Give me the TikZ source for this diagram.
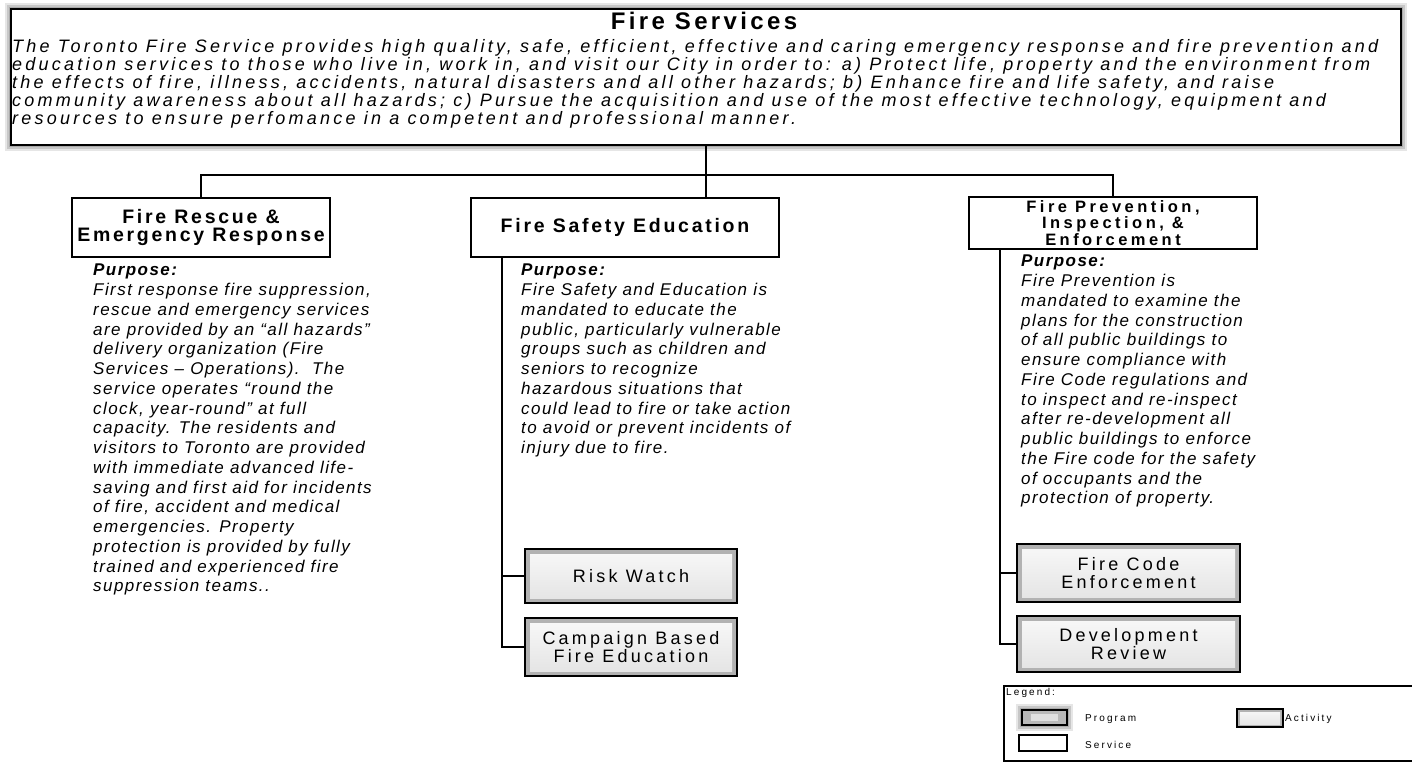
\documentclass[tikz,border=0pt]{standalone}
\usepackage{fontspec}
\setmainfont{Liberation Sans}
\newfontfamily\purposefont{Liberation Sans}[LetterSpace=8.5]
\newfontfamily\descfont{Liberation Sans}[LetterSpace=18]
\newfontfamily\headfont{Liberation Sans}[LetterSpace=21]
\newfontfamily\boxfont{Liberation Sans}[LetterSpace=14]

\begin{document}
\begin{tikzpicture}[x=1pt,y=-1pt,
  conn/.style={line width=2.2pt},
  program/.style={draw, line width=1.2pt, fill=white, inner sep=0pt,
    preaction={draw=gray, line width=12pt, opacity=0.2},
    preaction={draw=gray, line width=8pt, opacity=0.3},
    preaction={draw=gray, line width=4pt, opacity=0.4}},
  service/.style={draw, line width=2pt, fill=white, inner sep=0pt, align=center,
    font=\boxfont\fontsize{19.5}{18}\selectfont\bfseries},
  activity/.style={draw=black, line width=1.2pt, fill=gray!60, inner sep=0pt, align=center,
    minimum width=212, font=\descfont\fontsize{18}{18}\selectfont,
    path picture={\shade[top color=gray!5, bottom color=gray!22]
      ([shift={(#1,#1)}]path picture bounding box.north west) rectangle
      ([shift={(-#1,-#1)}]path picture bounding box.south east);}},
  activity/.default=5,
  purpose/.style={anchor=north west, inner sep=0pt, align=left,
    font=\purposefont\fontsize{17}{19.75}\selectfont\itshape},
  legtext/.style={anchor=west, inner sep=0pt, font=\headfont\fontsize{10}{10}\selectfont}]
\useasboundingbox (0,0) rectangle (1412,764);

% top program box
\node[program, minimum width=1390, minimum height=136] (fsvc) at (706,77) {};
\node[font=\boxfont\fontsize{24}{24}\selectfont\bfseries] (fsvctitle) at (704,21) {Fire Services};
\node[anchor=north west, inner sep=0pt, align=left, font=\descfont\fontsize{18}{18}\selectfont\itshape] (fsvcdesc) at (12,39)
  {The Toronto Fire Service provides high quality, safe, efficient, effective and caring emergency response and fire prevention and\\
   education services to those who live in, work in, and visit our City in order to: a) Protect life, property and the environment from\\
   the effects of fire, illness, accidents, natural disasters and all other hazards; b) Enhance fire and life safety, and raise\\
   community awareness about all hazards; c) Pursue the acquisition and use of the most effective technology, equipment and\\
   resources to ensure perfomance in a competent and professional manner.};

% services
\node[service, minimum width=258, minimum height=59] (fre) at (201,227.5) {Fire Rescue \&\\Emergency Response};
\node[service, minimum width=308, minimum height=59] (fse) at (625,227.5) {Fire Safety Education};
\node[service, minimum width=288, minimum height=52, font=\headfont\fontsize{16.5}{16.5}\selectfont\bfseries] (fpie) at (1113,223)
  {Fire Prevention,\\Inspection, \&\\Enforcement};

% purposes
\node[purpose] (fretext) at (93,264)
  {\textbf{Purpose:}\\
   First response fire suppression,\\
   rescue and emergency services\\
   are provided by an “all hazards”\\
   delivery organization (Fire\\
   Services – Operations).\ \ The\\
   service operates “round the\\
   clock, year-round” at full\\
   capacity. The residents and\\
   visitors to Toronto are provided\\
   with immediate advanced life-\\
   saving and first aid for incidents\\
   of fire, accident and medical\\
   emergencies. Property\\
   protection is provided by fully\\
   trained and experienced fire\\
   suppression teams..};
\node[purpose] (fsetext) at (521,264)
  {\textbf{Purpose:}\\
   Fire Safety and Education is\\
   mandated to educate the\\
   public, particularly vulnerable\\
   groups such as children and\\
   seniors to recognize\\
   hazardous situations that\\
   could lead to fire or take action\\
   to avoid or prevent incidents of\\
   injury due to fire.};
\node[purpose] (fpietext) at (1021,255)
  {\textbf{Purpose:}\\
   Fire Prevention is\\
   mandated to examine the\\
   plans for the construction\\
   of all public buildings to\\
   ensure compliance with\\
   Fire Code regulations and\\
   to inspect and re-inspect\\
   after re-development all\\
   public buildings to enforce\\
   the Fire code for the safety\\
   of occupants and the\\
   protection of property.};

% activities
\node[activity, minimum height=54] (riskw) at (631,576) {Risk Watch};
\node[activity, minimum height=58] (camp) at (631,647) {Campaign Based\\Fire Education};
\node[activity, minimum width=223, minimum height=58] (fce) at (1128.5,573) {Fire Code\\Enforcement};
\node[activity, minimum width=223, minimum height=56] (devr) at (1128.5,644) {Development\\Review};

% connectors
\draw[conn] (fsvc.south) -- (fsvc.south |- fse.north);
\draw[conn] (fre.north) -- ++(0,-22) -| (fpie.north);
\coordinate (fsestem) at ([xshift=32pt]fse.south west);
\draw[conn] (fsestem) |- (camp.west);
\draw[conn] (fsestem |- riskw.west) -- (riskw.west);
\coordinate (fpiestem) at ([xshift=32pt]fpie.south west);
\draw[conn] (fpiestem) |- (devr.west);
\draw[conn] (fpiestem |- fce.west) -- (fce.west);

% legend
\node[draw, line width=1.5pt, minimum width=420, minimum height=75, anchor=north west, inner sep=0pt] (legend) at (1003,685) {};
\node[legtext] (legtitle) at (1006,693) {Legend:};
\node[program, line width=2pt, fill=gray!55, minimum width=45, minimum height=15,
  path picture={\fill[gray!25] ([shift={(9,4)}]path picture bounding box.north west) rectangle
    ([shift={(-9,-4)}]path picture bounding box.south east);}] (legprog) at (1044.5,717.5) {};
\node[legtext] (legprogtxt) at (1085,719) {Program};
\node[activity=3, minimum width=46, minimum height=18] (legact) at (1260,718) {};
\node[legtext] (legacttxt) at (1285,719) {Activity};
\node[service, minimum width=48, minimum height=16] (legsvc) at (1043,743) {};
\node[legtext] (legsvctxt) at (1085,745) {Service};
\end{tikzpicture}
\end{document}
